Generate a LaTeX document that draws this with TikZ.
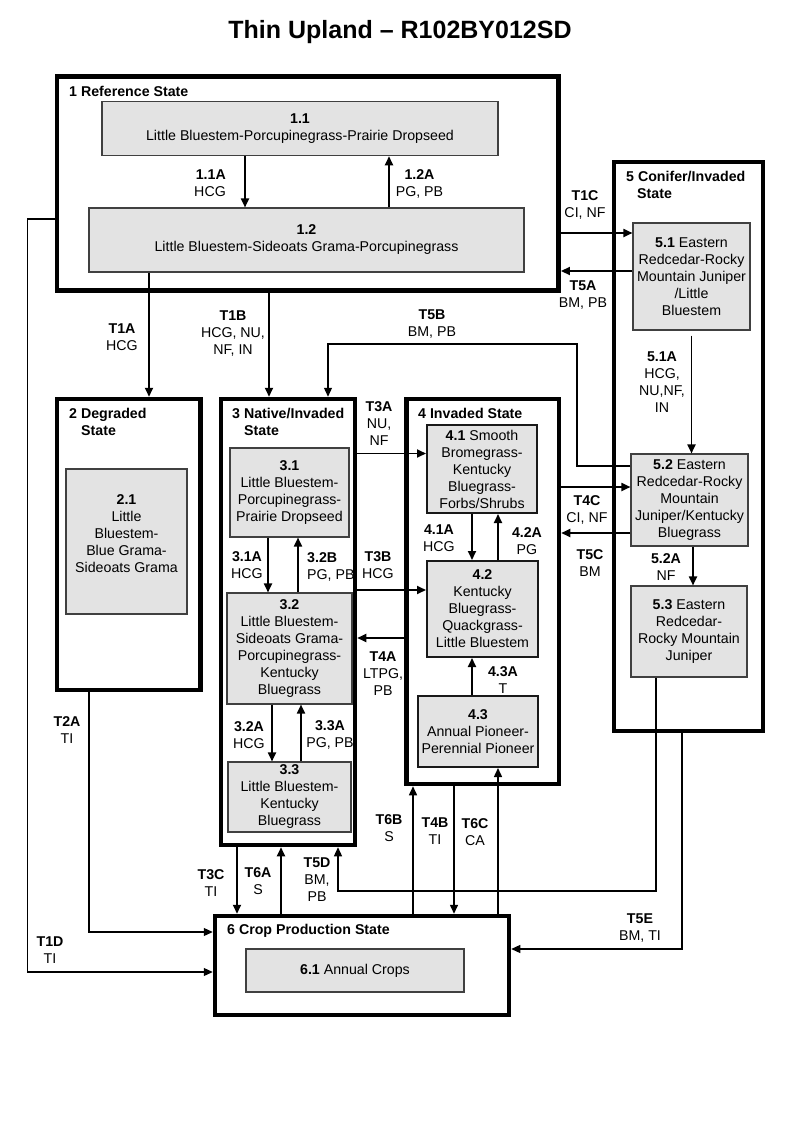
\documentclass[tikz,border=0pt]{standalone}
\usepackage{fontspec}
\setmainfont{Liberation Sans}
\usetikzlibrary{arrows.meta}
\newcommand{\fsz}{\fontsize{14.2}{17}\selectfont}
\begin{document}
\begin{tikzpicture}[x=1pt,y=-1pt,
  every node/.style={font=\fsz, inner sep=0pt},
  sbox/.style={draw=black, line width=4.5pt, fill=white},
  gbox/.style={draw=black!75, line width=1.1pt, fill=black!11, align=center},
  gboxk/.style={draw=black!90, line width=2pt, fill=black!11, align=center},
  lab/.style={align=center},
  labl/.style={align=left, anchor=west},
  labr/.style={align=right, anchor=east},
  stlab/.style={font=\fsz\bfseries, align=left, anchor=west},
  arr/.style={line width=1.8pt, -{Triangle[length=9pt,width=8pt]}},
  arrm/.style={line width=1.5pt, -{Triangle[length=9pt,width=8pt]}},
  arrt/.style={line width=1.2pt, -{Triangle[length=9pt,width=8pt]}}]
\useasboundingbox (0,0) rectangle (800,1143);
\fill[white] (0,0) rectangle (800,1143);

\node[font=\fontsize{25}{30}\selectfont\bfseries] (title) at (400,32) {Thin Upland – R102BY012SD};

% state boxes
\node[sbox, minimum width=501.7pt, minimum height=214pt] (s1) at (307.85,183.5) {};
\node[sbox, minimum width=143.5pt, minimum height=291pt] (s2) at (128.75,544.5) {};
\node[sbox, minimum width=134pt, minimum height=446pt] (s3) at (288,622) {};
\node[sbox, minimum width=152.5pt, minimum height=385pt] (s4) at (482.75,591.5) {};
\node[sbox, minimum width=149pt, minimum height=569pt] (s5) at (688.5,446.5) {};
\node[sbox, minimum width=294pt, minimum height=99pt] (s6) at (362,965.5) {};

% state titles
\node[stlab] (t1) at (69,91.7) {1 Reference State};
\node[stlab] (t2) at (69,421.5) {2 Degraded\\\hspace*{12pt}State};
\node[stlab] (t3) at (232,421.5) {3 Native/Invaded\\\hspace*{12pt}State};
\node[stlab] (t4) at (418,413) {4 Invaded State};
\node[stlab] (t5) at (626,184.5) {5 Conifer/Invaded\\\hspace*{11pt}State};
\node[stlab] (t6) at (227,931) {6 Crop Production State};

% community boxes
\node[gbox, minimum width=396pt, minimum height=54pt] (b11) at (300,128.7) {\textbf{1.1}\\Little Bluestem-Porcupinegrass-Prairie Dropseed};
\node[gbox, minimum width=435pt, minimum height=64pt] (b12) at (306.5,240) {\textbf{1.2}\\Little Bluestem-Sideoats Grama-Porcupinegrass};
\node[gbox, minimum width=121pt, minimum height=145pt] (b21) at (126.5,541.5) {};
\node[lab] (b21t) at (126.5,533.5) {\textbf{2.1}\\Little\\Bluestem-\\Blue Grama-\\Sideoats Grama};
\node[gbox, minimum width=119pt, minimum height=89pt] (b31) at (289.5,492.5) {\textbf{3.1}\\Little Bluestem-\\Porcupinegrass-\\Prairie Dropseed};
\node[gbox, minimum width=125pt, minimum height=111pt] (b32) at (289.5,648.5) {\textbf{3.2}\\Little Bluestem-\\Sideoats Grama-\\Porcupinegrass-\\Kentucky\\Bluegrass};
\node[gbox, minimum width=123pt, minimum height=70pt] (b33) at (289.5,797) {\textbf{3.3}\\Little Bluestem-\\Kentucky\\Bluegrass};
\node[gboxk, minimum width=110pt, minimum height=88pt] (b41) at (482,469) {\textbf{4.1} Smooth\\Bromegrass-\\Kentucky\\Bluegrass-\\Forbs/Shrubs};
\node[gboxk, minimum width=111pt, minimum height=96pt] (b42) at (482.5,609) {\textbf{4.2}\\Kentucky\\Bluegrass-\\Quackgrass-\\Little Bluestem};
\node[gboxk, minimum width=120pt, minimum height=71pt] (b43) at (478,731.5) {\textbf{4.3}\\Annual Pioneer-\\Perennial Pioneer};
\node[gbox, minimum width=117pt, minimum height=107pt] (b51) at (691.5,276.5) {\textbf{5.1} Eastern\\Redcedar-Rocky\\Mountain Juniper\\/Little\\Bluestem};
\node[gbox, minimum width=117pt, minimum height=92pt] (b52) at (689.5,500) {\textbf{5.2} Eastern\\Redcedar-Rocky\\Mountain\\Juniper/Kentucky\\Bluegrass};
\node[gbox, minimum width=116pt, minimum height=91pt] (b53) at (689,631.5) {\textbf{5.3} Eastern\\Redcedar-\\Rocky Mountain\\Juniper};
\node[gbox, minimum width=218pt, minimum height=43pt] (b61) at (355,970.5) {\textbf{6.1} Annual Crops};

% within-state transitions
\draw[arr] ([xshift=-55pt]b11.south) -- ([xshift=-55pt]b11.south |- b12.north);
\node[labr] (l11a) at (226,183.5) {\textbf{1.1A}\\HCG};
\draw[arr] ([xshift=89pt]b11.south |- b12.north) -- ([xshift=89pt]b11.south);
\node[lab] (l12a) at (419.5,183.5) {\textbf{1.2A}\\PG, PB};

\draw[arr] ([xshift=-21.5pt]b31.south) -- ([xshift=-21.5pt]b31.south |- b32.north);
\node[lab] (l31a) at (247,565) {\textbf{3.1A}\\HCG};
\draw[arr] ([xshift=8.5pt]b31.south |- b32.north) -- ([xshift=8.5pt]b31.south);
\node[labl] (l32b) at (307,567) {\textbf{3.2B}\\PG, PB};
\draw[arr] ([xshift=-17.5pt]b32.south) -- ([xshift=-17.5pt]b32.south |- b33.north);
\node[lab] (l32a) at (249,735) {\textbf{3.2A}\\HCG};
\draw[arr] ([xshift=11.5pt]b32.south |- b33.north) -- ([xshift=11.5pt]b32.south);
\node[lab] (l33a) at (330,735) {\textbf{3.3A}\\PG, PB};

\draw[arr] ([xshift=-10pt]b41.south) -- ([xshift=-10pt]b41.south |- b42.north);
\node[lab] (l41a) at (439,538) {\textbf{4.1A}\\HCG};
\draw[arr] ([xshift=16pt]b41.south |- b42.north) -- ([xshift=16pt]b41.south);
\node[lab] (l42a) at (527,541) {\textbf{4.2A}\\PG};
\draw[arr] ([xshift=-6pt]b43.north) -- ([xshift=-6pt]b43.north |- b42.south);
\node[lab] (l43a) at (503,680) {\textbf{4.3A}\\T};

\draw[arr] ([yshift=-5pt]b51.south) -- (b51.south |- b52.north);
\node[lab] (l51a) at (662,382.5) {\textbf{5.1A}\\HCG,\\NU,NF,\\IN};
\draw[arr] ([xshift=3.5pt]b52.south) -- ([xshift=3.5pt]b52.south |- b53.north);
\node[lab] (l52a) at (666,567.5) {\textbf{5.2A}\\NF};

% between-state transitions
\draw[arr] ([yshift=43.5pt]b51.west -| s1.east) -- ([yshift=43.5pt]b51.west);
\node[lab] (lt1c) at (585,204.5) {\textbf{T1C}\\CI, NF};
\draw[arr] ([yshift=5.5pt]b51.west) -- ([yshift=5.5pt]b51.west -| s1.east);
\node[lab] (lt5a) at (583,295.5) {\textbf{T5A}\\BM, PB};

\draw[arr] ([xshift=-157.5pt]b12.south) -- ([xshift=-157.5pt]b12.south |- s2.north);
\node[lab] (lt1a) at (122,337.5) {\textbf{T1A}\\HCG};
\draw[arr] ([xshift=-38.85pt]s1.south) -- ([xshift=-38.85pt]s1.south |- s3.north);
\node[lab] (lt1b) at (233,334) {\textbf{T1B}\\HCG, NU,\\NF, IN};

\coordinate (t5bc) at (577,344);
\draw[arrt] ([yshift=34pt]b52.west) -| (t5bc) -| ([xshift=40pt]s3.north);
\node[lab] (lt5b) at (432,324) {\textbf{T5B}\\BM, PB};

\draw[arr] ([yshift=15.5pt]b41.west -| s3.east) -- ([yshift=15.5pt]b41.west);
\node[lab] (lt3a) at (379,424) {\textbf{T3A}\\NU,\\NF};
\draw[arr] ([yshift=19pt]b42.west -| s3.east) -- ([yshift=19pt]b42.west);
\node[lab] (lt3b) at (378,565) {\textbf{T3B}\\HCG};
\draw[arr] ([yshift=-16pt]s3.east -| s4.west) -- ([yshift=-16pt]s3.east);
\node[lab] (lt4a) at (383,674) {\textbf{T4A}\\LTPG,\\PB};

\draw[arr] ([yshift=13pt]b52.west -| s4.east) -- ([yshift=13pt]b52.west);
\node[lab] (lt4c) at (587,509.5) {\textbf{T4C}\\CI, NF};
\draw[arr] ([yshift=-33pt]b52.west) -- ([yshift=-33pt]b52.west -| s4.east);
\node[lab] (lt5c) at (590,563.5) {\textbf{T5C}\\BM};

\draw[arrt] ([yshift=-35.5pt]s1.west) -- ++(-27pt,0) |- ([yshift=-6.5pt]s6.west);
\node[lab] (lt1d) at (50,950) {\textbf{T1D}\\TI};
\draw[arrt] ([xshift=-39.75pt]s2.south) |- ([yshift=33.5pt]s6.west);
\node[lab] (lt2a) at (67,730) {\textbf{T2A}\\TI};

\draw[arr] ([xshift=-51pt]s3.south) -- ([xshift=-51pt]s3.south |- s6.north);
\node[lab] (lt3c) at (211,883.5) {\textbf{T3C}\\TI};
\draw[arr] ([xshift=-81pt]s6.north) -- ([xshift=-81pt]s6.north |- s3.south);
\node[lab] (lt6a) at (258,881) {\textbf{T6A}\\S};

\coordinate (t5dc) at (338,891);
\draw[arrt] ([xshift=-33pt]b53.south) |- (t5dc) -- ([xshift=50pt]s3.south);
\node[lab] (lt5d) at (317,880) {\textbf{T5D}\\BM,\\PB};

\draw[arrm] ([xshift=51pt]s6.north) -- ([xshift=51pt]s6.north |- s4.south);
\node[lab] (lt6b) at (389,828.5) {\textbf{T6B}\\S};
\draw[arrm] ([xshift=-28.75pt]s4.south) -- ([xshift=-28.75pt]s4.south |- s6.north);
\node[lab] (lt4b) at (435,831) {\textbf{T4B}\\TI};
\draw[arrm] ([xshift=136pt]s6.north) -- ([xshift=136pt]s6.north |- b43.south);
\node[lab] (lt6c) at (475,832.5) {\textbf{T6C}\\CA};

\draw[arrt] ([xshift=-6.5pt]s5.south) |- ([yshift=16.5pt]s6.east);
\node[lab] (lt5e) at (640,928) {\textbf{T5E}\\BM, TI};
\end{tikzpicture}
\end{document}
